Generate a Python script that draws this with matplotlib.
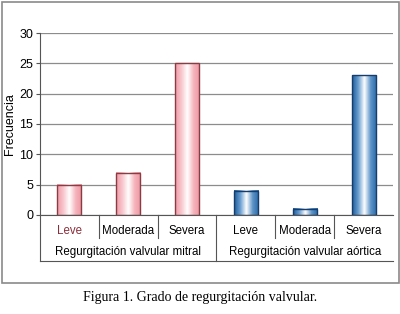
import numpy as np
import matplotlib.pyplot as plt
from matplotlib.colors import LinearSegmentedColormap
from matplotlib.patches import Rectangle
import matplotlib.transforms as mtransforms

plt.rcParams['font.family'] = ['Liberation Sans', 'DejaVu Sans']

# data
categories = ['Leve', 'Moderada', 'Severa', 'Leve', 'Moderada', 'Severa']
groups = ['Regurgitación valvular mitral', 'Regurgitación valvular aórtica']
mitral = [5, 7, 25]
aortica = [4, 1, 23]
values = mitral + aortica
caption = 'Figura 1. Grado de regurgitación valvular.'

pink = LinearSegmentedColormap.from_list('pink', ['#f29aa6', '#f8c6cc', '#ffffff', '#f6b4bc', '#ec98a4'])
blue = LinearSegmentedColormap.from_list('blue', ['#1d5c9c', '#6a9ed0', '#ffffff', '#5f95c8', '#2a6aa8'])

fig = plt.figure(figsize=(4.0, 3.14), dpi=100)
ax = fig.add_axes([0.1, 0.3153, 0.8825, 0.5796])

# outer frame
fig.patches.append(Rectangle((1.5 / 400, 1 - 282.5 / 314), 397 / 400, 281 / 314,
                             transform=fig.transFigure, fill=False,
                             edgecolor='#8a8a8a', lw=1.2))

ax.set_xlim(-0.5, 5.5)
ax.set_ylim(0, 30)
ax.set_yticks(range(0, 31, 5))
ax.yaxis.grid(True, color='#8c8c8c', lw=0.9)
ax.set_axisbelow(True)
for s in ['top', 'right']:
    ax.spines[s].set_visible(False)
ax.spines['left'].set_color('#555555')
ax.spines['bottom'].set_color('#555555')
ax.tick_params(axis='y', length=3, color='#555555', labelsize=9, pad=2)
ax.set_xticks([])
ax.set_ylabel('Frecuencia', fontsize=9, labelpad=2)

grad = np.linspace(0, 1, 64).reshape(1, -1)
w = 0.41
for i, v in enumerate(values):
    cmap = pink if i < 3 else blue
    edge = '#8a3c44' if i < 3 else '#163c6c'
    ax.imshow(grad, cmap=cmap, extent=(i - w / 2, i + w / 2, 0, v),
              aspect='auto', zorder=2, interpolation='bilinear')
    ax.bar(i, v, width=w, fill=False, edgecolor=edge, lw=1.0, zorder=3)

# category axis boxes
trans = mtransforms.blended_transform_factory(ax.transData, ax.transAxes)
row1 = -23 / 182
row2 = -46 / 182
for i, c in enumerate(categories):
    col = '#8a2d3a' if i == 0 else 'black'
    ax.text(i, -16 / 182, c, transform=trans, ha='center', va='center',
            fontsize=8.3, color=col)
for x in [0.5, 1.5, 3.5, 4.5]:
    ax.plot([x, x], [0, row1], transform=trans, color='#555555', lw=0.8, clip_on=False)
for x in [-0.5, 2.5]:
    ax.plot([x, x], [0, row2], transform=trans, color='#555555', lw=0.8, clip_on=False)
ax.plot([-0.5, 5.5], [row2, row2], transform=trans, color='#555555', lw=0.8, clip_on=False)
for g, gx in zip(groups, [1, 4]):
    ax.text(gx, -37 / 182, g, transform=trans, ha='center', va='center',
            fontsize=8.3)

fig.text(0.5, 1 - 298 / 314, caption, ha='center', va='center',
         fontsize=10, family=['Liberation Serif', 'DejaVu Serif'])

fig.savefig('out.png', dpi=100)
